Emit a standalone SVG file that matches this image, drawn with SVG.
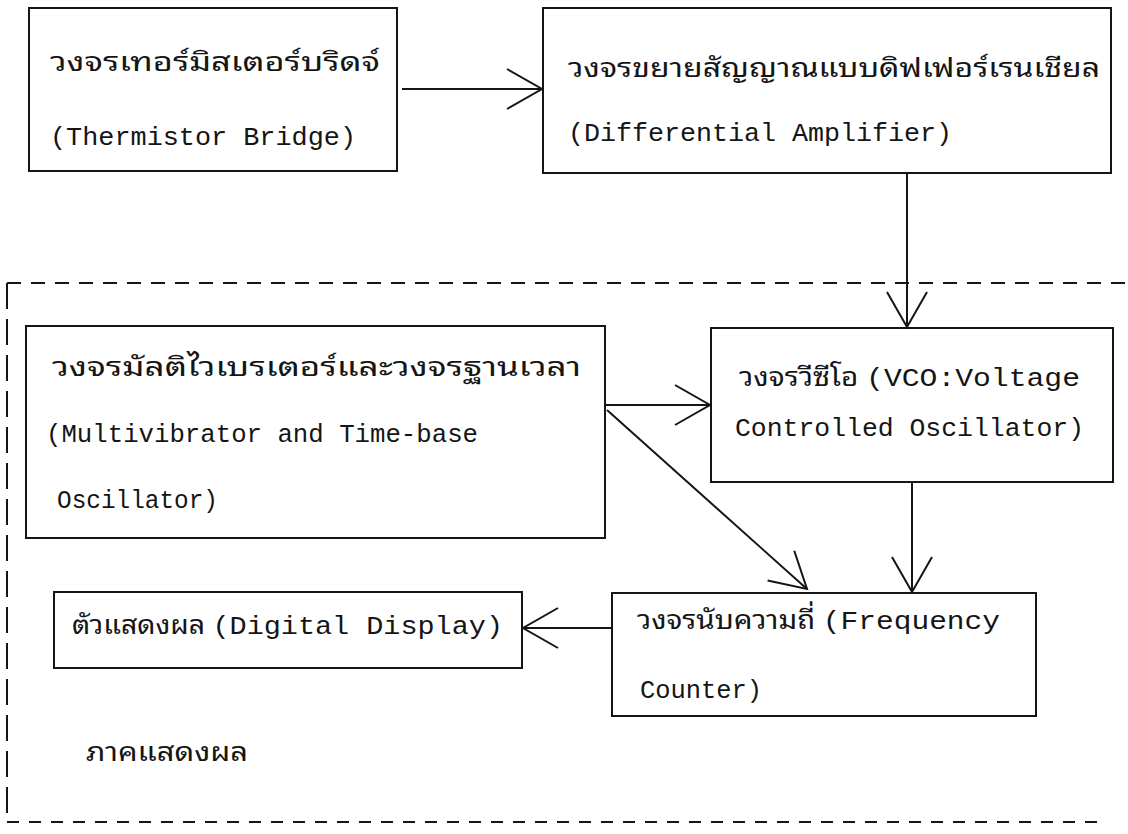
<svg xmlns="http://www.w3.org/2000/svg" width="1128" height="834" viewBox="0 0 1128 834">
<style>
.box{fill:none;stroke:#151515;stroke-width:2}
.ln{fill:none;stroke:#151515;stroke-width:2}
.dash{fill:none;stroke:#151515;stroke-width:2}
.th{font-family:'TlwgTypewriter','Tlwg Typewriter','Tlwg Typo','Noto Sans Thai Looped','Noto Serif Thai','Noto Sans Thai','Noto Sans','DejaVu Sans',sans-serif;font-size:26px;fill:#151515}
.en{font-family:'Liberation Mono','DejaVu Sans Mono',monospace;font-size:26px;fill:#151515}
</style>
<defs>
<marker id="ah" viewBox="-40 -25 44 50" refX="0" refY="0" markerWidth="44" markerHeight="50" markerUnits="userSpaceOnUse" orient="auto">
<path d="M-35,-20 L0,0 L-35,20" fill="none" stroke="#151515" stroke-width="2"/>
</marker>
</defs>
<rect width="1128" height="834" fill="#fff"/>
<g id="region">
<path class="dash" d="M7,283 H1128" stroke-dasharray="14 10"/>
<path class="dash" d="M7,283 V822" stroke-dasharray="26 10"/>
<path class="dash" d="M7,822 H1100" stroke-dasharray="12 10"/>
<text class="th" x="86" y="761" textLength="162" lengthAdjust="spacingAndGlyphs">ภาคแสดงผล</text>
</g>
<g id="thermistor">
<rect class="box" x="29" y="8" width="368" height="163"/>
<text class="th" x="50" y="71" textLength="330" lengthAdjust="spacingAndGlyphs">วงจรเทอร์มิสเตอร์บริดจ์</text>
<text class="en" x="50" y="145" textLength="306" lengthAdjust="spacingAndGlyphs">(Thermistor Bridge)</text>
</g>
<g id="diffamp">
<rect class="box" x="543" y="8" width="568" height="165"/>
<text class="th" x="568" y="77" textLength="532" lengthAdjust="spacingAndGlyphs">วงจรขยายสัญญาณแบบดิฟเฟอร์เรนเชียล</text>
<text class="en" x="568" y="141" textLength="384" lengthAdjust="spacingAndGlyphs">(Differential Amplifier)</text>
</g>
<g id="multivibrator">
<rect class="box" x="26" y="326" width="579" height="212"/>
<text class="th" x="52" y="376" textLength="529" lengthAdjust="spacingAndGlyphs">วงจรมัลติไวเบรเตอร์และวงจรฐานเวลา</text>
<text class="en" x="46" y="442" textLength="432" lengthAdjust="spacingAndGlyphs">(Multivibrator and Time-base</text>
<text class="en" x="57" y="508" textLength="161" lengthAdjust="spacingAndGlyphs">Oscillator)</text>
</g>
<g id="vco">
<rect class="box" x="711" y="328" width="402" height="154"/>
<text x="739" y="386" textLength="341" lengthAdjust="spacingAndGlyphs"><tspan class="th">วงจรวีซีโอ </tspan><tspan class="en">(VCO:Voltage</tspan></text>
<text class="en" x="735" y="436" textLength="349" lengthAdjust="spacingAndGlyphs">Controlled Oscillator)</text>
</g>
<g id="display">
<rect class="box" x="54" y="592" width="468" height="76"/>
<text x="72" y="634" textLength="431" lengthAdjust="spacingAndGlyphs"><tspan class="th">ตัวแสดงผล </tspan><tspan class="en">(Digital Display)</tspan></text>
</g>
<g id="counter">
<rect class="box" x="612" y="593" width="424" height="123"/>
<text x="637" y="629" textLength="363" lengthAdjust="spacingAndGlyphs"><tspan class="th">วงจรนับความถี่ </tspan><tspan class="en">(Frequency</tspan></text>
<text class="en" x="640" y="698" textLength="122" lengthAdjust="spacingAndGlyphs">Counter)</text>
</g>
<g id="connectors">
<path class="ln" d="M402,89 H542" marker-end="url(#ah)"/>
<path class="ln" d="M907,173 V327" marker-end="url(#ah)"/>
<path class="ln" d="M605,405 H710" marker-end="url(#ah)"/>
<path class="ln" d="M607,410 L807,589" marker-end="url(#ah)"/>
<path class="ln" d="M912,482 V592" marker-end="url(#ah)"/>
<path class="ln" d="M612,628 H523" marker-end="url(#ah)"/>
</g>
</svg>
